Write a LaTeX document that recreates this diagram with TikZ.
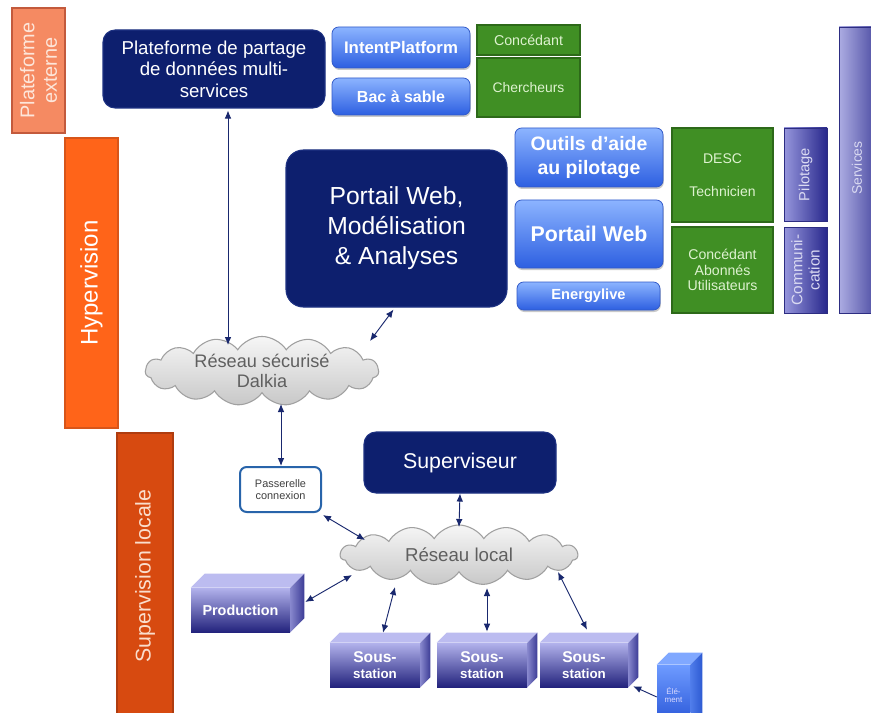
\documentclass[tikz,border=0pt]{standalone}
\usepackage{fontspec}
\setmainfont{Liberation Sans}
\usetikzlibrary{calc,shapes.symbols,shadows,arrows.meta}
\newcommand{\myfs}[2]{\fontsize{#1}{#2}\selectfont}
\definecolor{navy}{RGB}{13,31,110}
\definecolor{navyE}{RGB}{30,50,130}
\definecolor{blueT}{RGB}{140,180,255}
\definecolor{blueB}{RGB}{45,95,225}
\definecolor{blueE}{RGB}{50,90,200}
\definecolor{grn}{RGB}{64,143,36}
\definecolor{grnE}{RGB}{45,105,25}
\definecolor{grnT}{RGB}{222,242,208}
\definecolor{purL}{RGB}{150,150,220}
\definecolor{purR}{RGB}{40,40,140}
\definecolor{svcL}{RGB}{172,172,226}
\definecolor{svcR}{RGB}{80,80,165}
\definecolor{purE}{RGB}{45,45,130}
\definecolor{purT}{RGB}{218,218,242}
\definecolor{cloudT}{RGB}{246,246,246}
\definecolor{cloudB}{RGB}{200,200,200}
\definecolor{cloudE}{RGB}{160,160,160}
\definecolor{cloudTxt}{RGB}{95,95,95}
\definecolor{arr}{RGB}{25,40,110}
\definecolor{orA}{RGB}{245,138,98}
\definecolor{orAE}{RGB}{195,90,60}
\definecolor{orAT}{RGB}{253,230,218}
\definecolor{orB}{RGB}{255,100,25}
\definecolor{orBE}{RGB}{215,85,25}
\definecolor{orC}{RGB}{215,74,16}
\definecolor{orCE}{RGB}{175,60,15}
\definecolor{orCT}{RGB}{250,222,205}
\definecolor{cT}{RGB}{178,178,236}
\definecolor{cB}{RGB}{35,35,125}
\definecolor{cTop}{RGB}{188,188,240}
\definecolor{cSL}{RGB}{135,135,205}
\definecolor{cSR}{RGB}{60,60,150}
\definecolor{eT}{RGB}{110,155,255}
\definecolor{eB}{RGB}{40,85,215}
\definecolor{eTop}{RGB}{128,168,255}
\definecolor{eSL}{RGB}{80,125,235}
\definecolor{eSR}{RGB}{45,90,210}
\definecolor{pasE}{RGB}{40,100,170}
\tikzset{
  px/.style args={#1,#2,#3,#4}{minimum width={(#3-#1)*0.75pt}, minimum height={(#4-#2)*0.75pt}, at={({(#1+#3)/2},{(#2+#4)/2})}},
  obar/.style 2 args={fill=#1, draw=#2, line width=1.2pt},
  navybox/.style={fill=navy, draw=navyE, line width=0.8pt, rounded corners=9pt, text=white, align=center},
  bluebox/.style={top color=blueT, bottom color=blueB, draw=blueE, line width=0.6pt, rounded corners=5pt, text=white, align=center, drop shadow={shadow xshift=0.6pt, shadow yshift=-1.5pt, opacity=0.35, fill=black!60}},
  greenbox/.style={fill=grn, draw=grnE, line width=1.2pt, text=grnT, align=center},
  purplebox/.style={left color=purL, right color=purR, draw=purE, line width=0.6pt},
  svcbox/.style={left color=svcL, right color=svcR, draw=purE, line width=0.6pt},
  cloudnode/.style={cloud, cloud puffs=15, cloud puff arc=115, cloud ignores aspect, draw=cloudE, line width=0.8pt, top color=cloudT, bottom color=cloudB, text=cloudTxt, align=center},
  dar/.style={draw=arr, line width=0.7pt, {Latex[length=6pt,width=5pt]}-{Latex[length=6pt,width=5pt]}},
  sar/.style={draw=arr, line width=0.7pt, -{Latex[length=6pt,width=5pt]}},
  cfront/.style={top color=cT, bottom color=cB, text=white, align=center, font=\bfseries},
  ctop/.style={fill=cTop},
  cside/.style={left color=cSL, right color=cSR},
  efront/.style={top color=eT, bottom color=eB, text=white!85!blue, align=center, font=\myfs{6}{6.5}},
  etop/.style={fill=eTop},
  eside/.style={left color=eSL, right color=eSR},
}
\newcommand{\drawcube}[8]{%
  \node[#7front, px={#2,#3,#4,#5}] (#1) {#8};
  \path[#7top] (#1.north west) -- ++(#6,-#6) -- ($(#1.north east)+(#6,-#6)$) -- (#1.north east) -- cycle;
  \path[#7side] (#1.north east) -- ++(#6,-#6) -- ($(#1.south east)+(#6,-#6)$) -- (#1.south east) -- cycle;
}
\begin{document}
\begin{tikzpicture}[x=0.75pt,y=-0.75pt, every node/.style={inner sep=0pt}]
\useasboundingbox (0,0) rectangle (871,713);
\fill[white] (0,0) rectangle (871,713);

% left bars
\node[obar={orA}{orAE}, px={12,8,65,133}] (pe) {};
\node[rotate=90, text=orAT, align=center, font=\myfs{14.9}{17}] at (pe) {Plateforme\\externe};
\node[obar={orB}{orBE}, px={65,138,118,428}] (hyp) {};
\node[rotate=90, text=white, font=\myfs{18}{20}] at (hyp) {Hypervision};
\node[obar={orC}{orCE}, px={117,433,173,725}] (sl) {};
\node[rotate=90, text=orCT, font=\myfs{16}{18}] at ($(sl)+(0,-3)$) {Supervision locale};

% top row
\node[navybox, px={103,30,325,108}, font=\myfs{14}{16}] (plat) {Plateforme de partage\\de données multi-\\services};
\node[bluebox, px={332,27,470,68}, font=\bfseries\myfs{12.6}{14}] (intent) {IntentPlatform};
\node[bluebox, px={332,78,470,115}, font=\bfseries\myfs{12}{14}] (bac) {Bac à sable};
\node[greenbox, px={477,25,580,55}, font=\myfs{10.7}{12}] (conc1) {Concédant};
\node[greenbox, px={477,58,580,117}, font=\myfs{10.4}{12}] (cherch) {Chercheurs};

% hypervision row
\node[navybox, rounded corners=13pt, px={286,150,507,307}, font=\myfs{18.5}{22.5}] (ptm) {Portail Web,\\Modélisation\\\& Analyses};
\node[bluebox, px={515,128,663,187}, font=\bfseries\myfs{14.6}{18}] (outils) {Outils d’aide\\au pilotage};
\node[bluebox, px={515,200,663,268}, font=\bfseries\myfs{16}{18}] (pw) {Portail Web};
\node[bluebox, px={517,282,660,310}, font=\bfseries\myfs{11}{13}] (energy) {Energylive};
\node[greenbox, px={672,128,773,222}, font=\myfs{10.5}{13}] (desc) {DESC\\[12pt]Technicien};
\node[greenbox, px={672,227,773,313}, font=\myfs{10.6}{11.8}] (cau) {Concédant\\Abonnés\\Utilisateurs};
\node[purplebox, px={784,128,827,221}] (pil) {};
\node[rotate=90, text=purT, font=\myfs{11}{12}] at (pil) {Pilotage};
\node[purplebox, px={784,227,827,313}] (com) {};
\node[rotate=90, text=purT, align=center, font=\myfs{11.5}{13}] at (com) {Communi-\\cation};
\node[svcbox, px={839,27,875,313}] (svc) {};
\node[rotate=90, text=purT, font=\myfs{10.4}{12}] at ($(svc)+(0,-2)$) {Services};

% clouds
\node[cloudnode, minimum width=175pt, minimum height=50pt, font=\myfs{13.6}{15.5}] (dalkia) at (262,371) {Réseau sécurisé\\Dalkia};
\node[cloudnode, minimum width=178pt, minimum height=45pt, font=\myfs{14}{16}] (loc) at (459,555) {Réseau local};

% local supervision
\node[draw=pasE, line width=1.5pt, fill=white, rounded corners=5pt, px={240,467,321,512}, text=black!75, align=center, font=\myfs{8.2}{9.5}] (pas) {Passerelle\\connexion};
\node[navybox, px={364,432,556,493}, font=\myfs{16}{18}] (sup) {Superviseur};

\drawcube{prod}{191}{588}{290}{632}{14}{c}{\myfs{10.8}{13}Production}
\drawcube{ss1}{330}{643}{420}{687}{10}{c}{\myfs{11.7}{14}Sous-\\station}
\drawcube{ss2}{437}{643}{527}{687}{10}{c}{\myfs{11.7}{14}Sous-\\station}
\drawcube{ss3}{540}{643}{628}{687}{10}{c}{\myfs{11.7}{14}Sous-\\station}
\drawcube{elem}{657}{665}{690}{725}{12}{e}{Élé-\\ment}

% connectors
\draw[dar] ($(plat.south)+(14,2)$) -- ($(dalkia.center)+(-34,-26)$);
\draw[dar] ($(ptm.south)+(-3,2)$) -- ($(dalkia.center)+(108,-30)$);
\draw[dar] ($(dalkia.center)+(19,33)$) -- ($(pas.north)+(0.5,0)$);
\draw[dar] ($(pas.south east)+(1,2)$) -- ($(loc.center)+(-94,-15)$);
\draw[dar] (sup.south) -- ($(loc.center)+(0,-28)$);
\draw[dar] ($(prod.east)+(15,-8)$) -- ($(loc.center)+(-107,20)$);
\draw[dar] ($(loc.center)+(-64,32)$) -- ($(ss1.north)+(8,-10)$);
\draw[dar] ($(loc.center)+(28,33)$) -- ($(ss2.north)+(5,-11)$);
\draw[dar] ($(loc.center)+(99,17)$) -- ($(ss3.north)+(3,-13)$);
\draw[sar] ($(elem.west)+(0,2)$) -- ($(ss3.south east)+(5,-1)$);
\end{tikzpicture}
\end{document}
